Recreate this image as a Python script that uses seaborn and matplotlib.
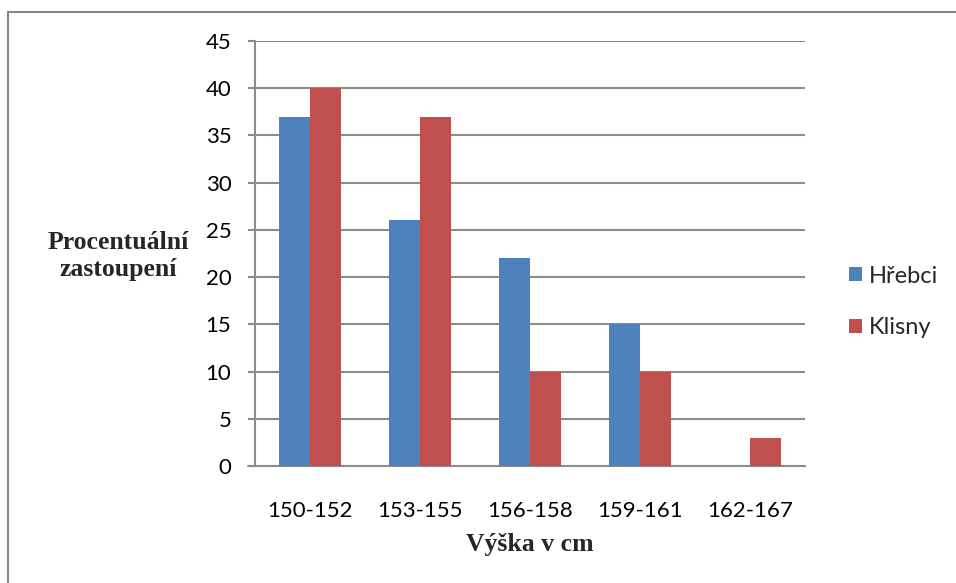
import matplotlib
matplotlib.use("Agg")
import matplotlib.pyplot as plt
import seaborn as sns
import pandas as pd
from matplotlib.patches import Rectangle, Patch

categories = ["150-152", "153-155", "156-158", "159-161", "162-167"]
hrebci = [37, 26, 22, 15, 0]
klisny = [40, 37, 10, 10, 3]
series_names = ["Hřebci", "Klisny"]
colors = ["#4F81BD", "#C0504D"]
y_ticks = [0, 5, 10, 15, 20, 25, 30, 35, 40, 45]

df = pd.DataFrame({
    "Výška": categories * 2,
    "Hodnota": hrebci + klisny,
    "Skupina": [series_names[0]] * len(categories) + [series_names[1]] * len(categories),
})

sns.set_theme(style="white")
plt.rcParams["font.family"] = ["Lato", "DejaVu Sans"]

fig = plt.figure(figsize=(9.56, 5.83), dpi=100)
ax = fig.add_axes([255 / 956, 1 - 466 / 583, (805 - 255) / 956, (466 - 41) / 583])

sns.barplot(data=df, x="Výška", y="Hodnota", hue="Skupina", palette=colors,
            width=0.57, saturation=1, ax=ax, legend=False, zorder=3)
for p in ax.patches:
    p.set_edgecolor("none")

grid_color = "#8C8C8C"
ax.set_ylim(0, 45)
ax.set_xlim(-0.5, len(categories) - 0.5)
ax.set_yticks(y_ticks)
ax.yaxis.grid(True, color=grid_color, linewidth=1.5, zorder=0)
ax.set_axisbelow(True)
for s in ["top", "right"]:
    ax.spines[s].set_visible(False)
ax.spines["left"].set_color(grid_color)
ax.spines["left"].set_linewidth(1.5)
ax.spines["bottom"].set_color(grid_color)
ax.spines["bottom"].set_linewidth(1.5)

ax.tick_params(axis="y", which="major", left=True, direction="out", length=5,
               width=1.5, color=grid_color, pad=12, labelsize=16, labelcolor="black")
ax.tick_params(axis="x", bottom=False, pad=19, labelsize=16, labelcolor="black")

# extend the zero line a little left, like the tick marks
ax.plot([-0.5 - 7 / 110, -0.5], [0, 0], color=grid_color, linewidth=1.5,
        clip_on=False, zorder=2)

ax.set_xlabel("")
ax.set_ylabel("")

fig.text(118 / 956, 1 - 256 / 583, "Procentuální\nzastoupení", ha="center", va="center",
         fontsize=18.5, fontweight="bold", family=["Liberation Serif"], linespacing=1.2)
fig.text(530 / 956, 1 - 545 / 583, "Výška v cm", ha="center", va="center",
         fontsize=18.5, fontweight="bold", family=["Liberation Serif"])

handles = [Patch(facecolor=c, edgecolor="none", label=n) for c, n in zip(colors, series_names)]
fig.legend(handles=handles, loc="center left", bbox_to_anchor=(849 / 956, 1 - 302 / 583),
           frameon=False, fontsize=17, handlelength=0.55, handleheight=0.55,
           handletextpad=0.3, labelspacing=1.3, borderaxespad=0, borderpad=0)

# outer chart frame
fig.patches.append(Rectangle((8 / 956, -0.1), 1.2, 1 - 12 / 583 + 0.1,
                             transform=fig.transFigure, fill=False,
                             edgecolor="#868686", linewidth=1.5))

fig.savefig("out.png", dpi=100)
